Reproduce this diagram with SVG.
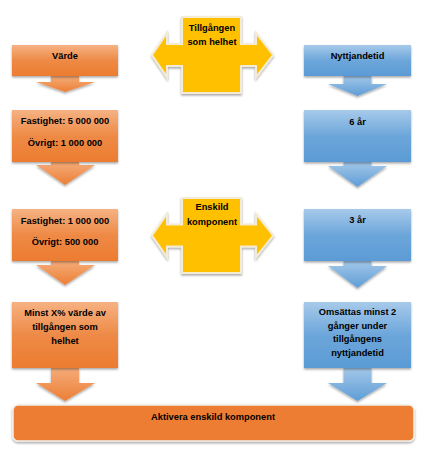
<svg xmlns="http://www.w3.org/2000/svg" width="429" height="458" viewBox="0 0 429 458">
<defs>
<linearGradient id="obox" x1="0" y1="0" x2="0" y2="1">
<stop offset="0" stop-color="#F6B283"/>
<stop offset="0.5" stop-color="#EE8A46"/>
<stop offset="1" stop-color="#EC7C30"/>
</linearGradient>
<linearGradient id="oarr" x1="0" y1="0" x2="0" y2="1">
<stop offset="0" stop-color="#F5AC7A"/>
<stop offset="1" stop-color="#EC7F35"/>
</linearGradient>
<linearGradient id="bbox" x1="0" y1="0" x2="0" y2="1">
<stop offset="0" stop-color="#A7CAEA"/>
<stop offset="0.5" stop-color="#6CA6DA"/>
<stop offset="1" stop-color="#5B9BD5"/>
</linearGradient>
<linearGradient id="barr" x1="0" y1="0" x2="0" y2="1">
<stop offset="0" stop-color="#A3C7E8"/>
<stop offset="1" stop-color="#5E9DD6"/>
</linearGradient>
<filter id="sh" x="-10%" y="-10%" width="120%" height="130%">
<feDropShadow dx="0" dy="1.5" stdDeviation="0.8" flood-color="#000" flood-opacity="0.35"/>
</filter>
</defs>
<style>
text{font-family:"Liberation Sans",Arial,sans-serif;font-weight:bold;font-size:9.3px;fill:#000;text-anchor:middle}
.ob{fill:url(#obox);filter:url(#sh)}
.oa{fill:url(#oarr);filter:url(#sh)}
.bb{fill:url(#bbox);filter:url(#sh)}
.ba{fill:url(#barr);filter:url(#sh)}
.y{fill:#FFC000;stroke:#F4EBD2;stroke-width:2;filter:url(#sh)}
.bar{fill:#ED7D31;stroke:#F2EFEA;stroke-width:1.5;filter:url(#sh)}
</style>

<g id="connectors">
<path class="oa" d="M51,76 H79 V82 H95 L65,92 L36,82 H51 Z"/>
<path class="oa" d="M51,162 H79 V165 H95 L65,185 L36,165 H51 Z"/>
<path class="oa" d="M51,261 H79 V265 H95 L65,285 L36,265 H51 Z"/>
<path class="oa" d="M51,368 H79 V383 H95 L65,401 L36,383 H51 Z"/>
<path class="ba" d="M343.5,76 H371.5 V84 H387 L357.5,96 L328,84 H343.5 Z"/>
<path class="ba" d="M343.5,162 H371.5 V166 H387 L357.5,187 L328,166 H343.5 Z"/>
<path class="ba" d="M343.5,261 H371.5 V266 H387 L357.5,288 L328,266 H343.5 Z"/>
<path class="ba" d="M343.5,368 H371.5 V383 H387 L357.5,401 L328,383 H343.5 Z"/>
</g>

<g id="n-varde">
<rect class="ob" x="12" y="45" width="106" height="31"/>
<text x="65" y="59.3">Värde</text>
</g>
<g id="n-fastighet1">
<rect class="ob" x="12" y="110" width="106" height="52"/>
<text x="65" y="124.3">Fastighet: 5 000 000</text>
<text x="65" y="146.3">Övrigt: 1 000 000</text>
</g>
<g id="n-fastighet2">
<rect class="ob" x="12" y="209" width="106" height="52"/>
<text x="65" y="224.3">Fastighet: 1 000 000</text>
<text x="65" y="245.3">Övrigt: 500 000</text>
</g>
<g id="n-minst">
<rect class="ob" x="12" y="302" width="106" height="66"/>
<text x="65" y="316.3">Minst X% värde av</text>
<text x="65" y="330.3">tillgången som</text>
<text x="65" y="344.3">helhet</text>
</g>

<g id="n-nyttjandetid">
<rect class="bb" x="304" y="45" width="107" height="31"/>
<text x="357.5" y="59.3">Nyttjandetid</text>
</g>
<g id="n-6ar">
<rect class="bb" x="304" y="110" width="107" height="52"/>
<text x="357.5" y="125.3">6 år</text>
</g>
<g id="n-3ar">
<rect class="bb" x="304" y="209" width="107" height="52"/>
<text x="357.5" y="223.3">3 år</text>
</g>
<g id="n-omsattas">
<rect class="bb" x="304" y="302" width="107" height="66"/>
<text x="357.5" y="315.3">Omsättas minst 2</text>
<text x="357.5" y="329.3">gånger under</text>
<text x="357.5" y="342.3">tillgångens</text>
<text x="357.5" y="356.3">nyttjandetid</text>
</g>

<g id="n-tillgangen">
<path class="y" d="M182,17 H241 V44 H256 V33 L273,55 L256,77 V66 H241 V93 H182 V66 H167 V77 L152,55 L167,33 V44 H182 Z"/>
<text x="212" y="31.3">Tillgången</text>
<text x="212" y="45.3">som helhet</text>
</g>
<g id="n-enskild">
<path class="y" d="M182,198 H241 V224.5 H256 V214 L273,235.5 L256,257 V246.5 H241 V273 H182 V246.5 H167 V257 L152,235.5 L167,214 V224.5 H182 Z"/>
<text x="212" y="210.3">Enskild</text>
<text x="212" y="225.3">komponent</text>
</g>

<g id="n-aktivera">
<rect class="bar" x="13" y="405" width="401" height="36" rx="5"/>
<text x="213" y="420.3">Aktivera enskild komponent</text>
</g>
</svg>
